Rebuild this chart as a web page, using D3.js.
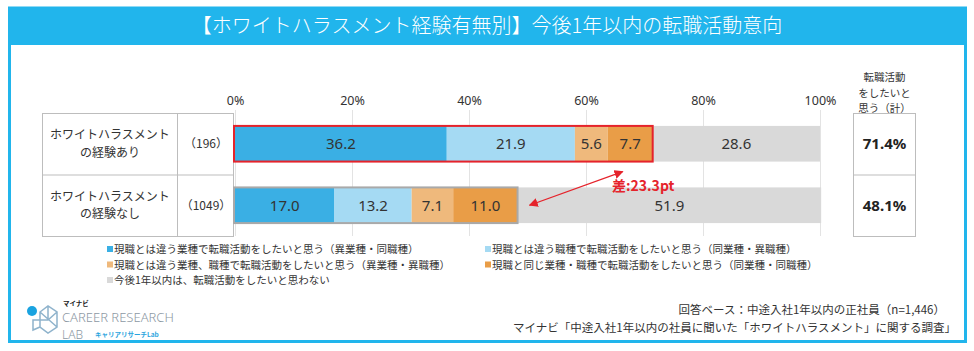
<!DOCTYPE html>
<html>
<head>
<meta charset="utf-8">
<script src="https://cdn.jsdelivr.net/npm/d3@7"></script>
<style>
  html, body { margin: 0; padding: 0; background: #fff; }
  svg { display: block; font-family: "Noto Sans CJK JP", "Noto Sans", sans-serif; }
</style>
</head>
<body>
<div id="chart"></div>
<script>
// data
const title = "【ホワイトハラスメント経験有無別】今後1年以内の転職活動意向";
const categories = ["ホワイトハラスメントの経験あり", "ホワイトハラスメントの経験なし"];
const categoryLines = [["ホワイトハラスメント", "の経験あり"], ["ホワイトハラスメント", "の経験なし"]];
const sampleSizes = ["（196）", "（1049）"];
const seriesNames = [
  "現職とは違う業種で転職活動をしたいと思う（異業種・同職種）",
  "現職とは違う職種で転職活動をしたいと思う（同業種・異職種）",
  "現職とは違う業種、職種で転職活動をしたいと思う（異業種・異職種）",
  "現職と同じ業種・職種で転職活動をしたいと思う（同業種・同職種）",
  "今後1年以内は、転職活動をしたいと思わない"
];
const s1 = [36.2, 17.0];
const s2 = [21.9, 13.2];
const s3 = [5.6, 7.1];
const s4 = [7.7, 11.0];
const s5 = [28.6, 51.9];
const totals = [71.4, 48.1];
const ticks = [0, 20, 40, 60, 80, 100];
const totalHeader = ["転職活動", "をしたいと", "思う（計）"];
const diffLabel = "差:23.3pt";
const noteBase = "回答ベース：中途入社1年以内の正社員（n=1,446）";
const noteSource = "マイナビ「中途入社1年以内の社員に聞いた「ホワイトハラスメント」に関する調査」";

const colors = ["#3aafe4", "#a5daf3", "#efb97c", "#e99d47", "#d9d9d9"];
const frameBlue = "#21b5ec";

const W = 974, H = 351;
const svg = d3.select("#chart").append("svg").attr("width", W).attr("height", H);

// frame + title banner
svg.append("rect").attr("x", 9.5).attr("y", 8).attr("width", 956).attr("height", 333.5)
  .attr("fill", "none").attr("stroke", frameBlue).attr("stroke-width", 3);
svg.append("rect").attr("x", 8).attr("y", 7).attr("width", 959).attr("height", 38).attr("fill", frameBlue);
svg.append("text").attr("x", W / 2).attr("y", 33).attr("text-anchor", "middle")
  .attr("fill", "#fff").style("font-size", "20px").style("font-weight", "300").text(title);

// rows
const rows = categories.map((c, i) => ({
  category: c, s1: s1[i], s2: s2[i], s3: s3[i], s4: s4[i], s5: s5[i]
}));
const keys = ["s1", "s2", "s3", "s4", "s5"];
const stacked = d3.stack().keys(keys)(rows);

const x = d3.scaleLinear().domain([0, 100]).range([235, 820]);
const y = d3.scaleBand().domain(categories).range([113, 236]).paddingInner(0.42).paddingOuter(0.21);
const rowBand = d3.scaleBand().domain(categories).range([113, 236]);

// gridlines + tick labels
svg.append("g").attr("transform", "translate(0,110)")
  .call(d3.axisTop(x).tickValues(ticks).tickFormat(d => d + "%").tickSize(-126))
  .call(g => g.select(".domain").remove())
  .call(g => g.selectAll(".tick line").attr("stroke", "#e3e3e3"))
  .call(g => g.selectAll(".tick text").attr("dy", "-2px").attr("fill", "#333")
    .style("font-size", "12.5px").style("font-family", "Noto Sans, sans-serif"));

// left table
const tbl = svg.append("g").attr("stroke", "#bdbdbd").attr("fill", "none");
tbl.append("rect").attr("x", 42.5).attr("y", 113.5).attr("width", 191).attr("height", 123);
tbl.append("line").attr("x1", 177.5).attr("x2", 177.5).attr("y1", 113.5).attr("y2", 236.5);
tbl.append("line").attr("x1", 42.5).attr("x2", 233.5).attr("y1", rowBand(categories[1]) + 0.5).attr("y2", rowBand(categories[1]) + 0.5);

categories.forEach((c, i) => {
  const cy = rowBand(c) + rowBand.bandwidth() / 2;
  categoryLines[i].forEach((ln, j) => {
    svg.append("text").attr("x", 110).attr("y", cy - 4.5 + j * 17.5).attr("text-anchor", "middle")
      .attr("fill", "#333").style("font-size", "12px").text(ln);
  });
  svg.append("text").attr("x", 206).attr("y", cy + 4.5).attr("text-anchor", "middle")
    .attr("fill", "#333").style("font-size", "12px").text(sampleSizes[i]);
});

// bars
const layer = svg.append("g").selectAll("g").data(stacked).join("g")
  .attr("fill", (d, i) => colors[i]);
layer.selectAll("rect").data(d => d.map(v => ({ v, key: d.key }))).join("rect")
  .attr("x", d => x(d.v[0]))
  .attr("y", d => y(d.v.data.category))
  .attr("width", d => x(d.v[1]) - x(d.v[0]))
  .attr("height", y.bandwidth());

layer.selectAll("text").data(d => d.map(v => ({ v, key: d.key }))).join("text")
  .attr("x", d => (x(d.v[0]) + x(d.v[1])) / 2)
  .attr("y", d => y(d.v.data.category) + y.bandwidth() / 2 + 5.5)
  .attr("text-anchor", "middle").attr("fill", "#333")
  .style("font-size", "15px").style("font-family", "Noto Sans, sans-serif")
  .text(d => (d.v[1] - d.v[0]).toFixed(1));

// outlines around the "want to change jobs" part
const want = rows.map(r => r.s1 + r.s2 + r.s3 + r.s4);
const outlineColors = ["#e5232b", "#a9a9a9"];
categories.forEach((c, i) => {
  svg.append("rect").attr("x", x(0) - 1).attr("y", y(c))
    .attr("width", x(want[i]) - x(0) + 1).attr("height", y.bandwidth())
    .attr("fill", "none").attr("stroke", outlineColors[i]).attr("stroke-width", 2);
});

// difference arrow
const defs = svg.append("defs");
defs.append("marker").attr("id", "ah").attr("viewBox", "0 0 10 10").attr("refX", 9).attr("refY", 5)
  .attr("markerWidth", 7).attr("markerHeight", 7).attr("orient", "auto-start-reverse")
  .append("path").attr("d", "M0,0L10,5L0,10z").attr("fill", "#e5232b");
const ax1 = x(want[1]) + 12, ay1 = y(categories[1]) + y.bandwidth() / 2;
const ax2 = x(want[0]) - 30, ay2 = y(categories[0]) + y.bandwidth() + 10;
svg.append("line").attr("x1", ax1).attr("y1", ay1).attr("x2", ax2).attr("y2", ay2)
  .attr("stroke", "#e5232b").attr("stroke-width", 1.3)
  .attr("marker-start", "url(#ah)").attr("marker-end", "url(#ah)");
svg.append("text").attr("x", 612).attr("y", 191).attr("fill", "#e5232b")
  .style("font-size", "14px").style("font-weight", "bold").text(diffLabel);

// right totals table
const rx0 = 853.5, rw = 62;
const rt = svg.append("g").attr("stroke", "#bdbdbd").attr("fill", "none");
rt.append("rect").attr("x", rx0).attr("y", 113.5).attr("width", rw).attr("height", 123);
rt.append("line").attr("x1", rx0).attr("x2", rx0 + rw).attr("y1", rowBand(categories[1]) + 0.5).attr("y2", rowBand(categories[1]) + 0.5);
totalHeader.forEach((ln, j) => {
  svg.append("text").attr("x", rx0 + rw / 2).attr("y", 81 + j * 15.5).attr("text-anchor", "middle")
    .attr("fill", "#333").style("font-size", "10.5px").text(ln);
});
categories.forEach((c, i) => {
  svg.append("text").attr("x", rx0 + rw / 2).attr("y", rowBand(c) + rowBand.bandwidth() / 2 + 5.5)
    .attr("text-anchor", "middle").attr("fill", "#222")
    .style("font-size", "15px").style("font-weight", "bold").style("font-family", "Noto Sans, sans-serif")
    .text(totals[i].toFixed(1) + "%");
});

// legend
const legendPos = [[107, 253], [485, 253], [107, 268.5], [485, 268.5], [107, 284]];
seriesNames.forEach((name, i) => {
  const [lx, ly] = legendPos[i];
  svg.append("rect").attr("x", lx).attr("y", ly - 7).attr("width", 6).attr("height", 6).attr("fill", colors[i]);
  svg.append("text").attr("x", lx + 7).attr("y", ly).attr("fill", "#333")
    .style("font-size", "10.5px").text(name);
});

// notes
svg.append("text").attr("x", 945).attr("y", 314).attr("text-anchor", "end").attr("fill", "#333")
  .style("font-size", "11.5px").text(noteBase);
svg.append("text").attr("x", 956).attr("y", 332).attr("text-anchor", "end").attr("fill", "#333")
  .style("font-size", "11.5px").text(noteSource);

// logo
const logo = svg.append("g").attr("fill", "none").attr("stroke", "#8fb3cc").attr("stroke-width", 1.5);
logo.append("path").attr("d", "M40,312 L48,306 L57,312 L57,327 L48,333 L40,327 Z M48,306 L48,320 M40,312 L57,327 M57,312 L48,320 L33,320 L33,330 L40,327");
svg.append("circle").attr("cx", 32).attr("cy", 311).attr("r", 5).attr("fill", "#1aa3e0");
svg.append("text").attr("x", 63).attr("y", 305.5).attr("fill", "#222").style("font-size", "6.5px").style("font-weight", "bold").text("マイナビ");
svg.append("text").attr("x", 62).attr("y", 322).attr("fill", "#8c98a3").style("font-size", "13px").style("font-weight", "300").style("font-family", "Noto Sans, sans-serif").text("CAREER RESEARCH");
svg.append("text").attr("x", 62).attr("y", 339).attr("fill", "#8c98a3").style("font-size", "12px").style("font-weight", "300").style("font-family", "Noto Sans, sans-serif").text("LAB");
svg.append("text").attr("x", 95).attr("y", 337).attr("fill", "#2aa4de").style("font-size", "6.5px").style("font-weight", "bold").text("キャリアリサーチLab");
</script>
</body>
</html>
